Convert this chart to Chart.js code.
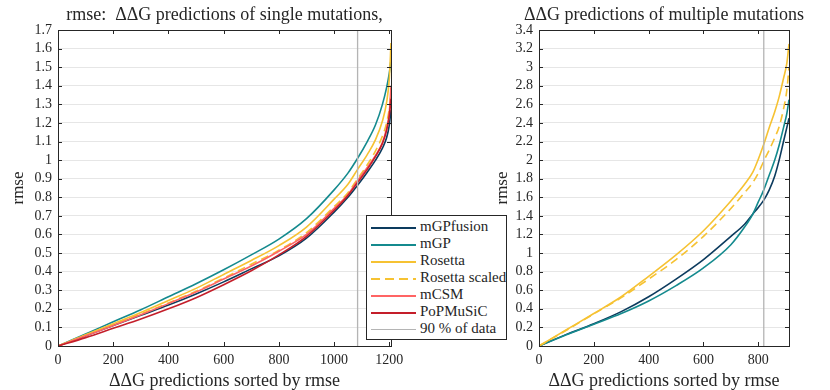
<!DOCTYPE html>
<html>
<head>
<meta charset="utf-8">
<script src="https://cdn.jsdelivr.net/npm/chart.js@4.4.0/dist/chart.umd.min.js"></script>
<style>
html, body { margin: 0; padding: 0; background: #fff; }
#wrap { position: relative; width: 830px; height: 390px; overflow: hidden; }
#c1 { position: absolute; left: 0; top: 0; }
#c2 { position: absolute; left: 415px; top: 0; }
#legend {
    position: absolute; left: 366px; top: 215px; width: 141px;
    background: #fff; border: 1px solid #262626; box-sizing: border-box;
    padding: 2px 0 2px 0; font-family: 'Liberation Serif', serif; font-size: 15px; color: #262626;
}
#legend .row { height: 17px; line-height: 17px; white-space: nowrap; }
#legend .sw { display: inline-block; width: 45px; height: 2px; margin: 0 4px 0 4px; vertical-align: middle; }
</style>
</head>
<body>
<div id="wrap">
    <canvas id="c1" width="415" height="390"></canvas>
    <canvas id="c2" width="415" height="390"></canvas>
    <div id="legend"></div>
</div>
<script>
// Данные: одиночные мутации
const singleX = [0, 100, 200, 300, 400, 500, 600, 700, 800, 900, 1000, 1050, 1085, 1120, 1150, 1175, 1190, 1200, 1206];
const singleFusion = [0, 0.055, 0.11, 0.165, 0.22, 0.28, 0.345, 0.415, 0.485, 0.58, 0.72, 0.80, 0.865, 0.935, 1.0, 1.065, 1.12, 1.19, 1.27];
const singleMGP = [0, 0.065, 0.13, 0.195, 0.265, 0.335, 0.41, 0.49, 0.575, 0.685, 0.84, 0.93, 1.01, 1.10, 1.19, 1.30, 1.39, 1.47, 1.54];
const singleRosetta = [0, 0.06, 0.12, 0.18, 0.245, 0.31, 0.385, 0.46, 0.54, 0.64, 0.79, 0.87, 0.95, 1.03, 1.11, 1.21, 1.31, 1.44, 1.63];
const singleRosettaScaled = [0, 0.058, 0.115, 0.172, 0.232, 0.295, 0.365, 0.44, 0.515, 0.61, 0.75, 0.825, 0.90, 0.975, 1.05, 1.13, 1.20, 1.28, 1.36];
const singleMCSM = [0, 0.055, 0.11, 0.168, 0.228, 0.29, 0.36, 0.43, 0.51, 0.60, 0.74, 0.815, 0.89, 0.96, 1.025, 1.095, 1.17, 1.26, 1.40];
const singlePoPMuSiC = [0, 0.045, 0.095, 0.145, 0.20, 0.26, 0.33, 0.405, 0.49, 0.59, 0.73, 0.81, 0.88, 0.95, 1.02, 1.09, 1.16, 1.24, 1.33];
const singleCut = 1085;
const singleXTicks = [0, 200, 400, 600, 800, 1000, 1200];
const singleYTicks = [0, 0.1, 0.2, 0.3, 0.4, 0.5, 0.6, 0.7, 0.8, 0.9, 1, 1.1, 1.2, 1.3, 1.4, 1.5, 1.6, 1.7];

// Данные: множественные мутации
const multiX = [0, 100, 200, 300, 400, 500, 600, 700, 750, 780, 800, 820, 840, 860, 876, 892, 904, 912];
const multiFusion = [0, 0.125, 0.24, 0.37, 0.53, 0.72, 0.93, 1.18, 1.31, 1.42, 1.49, 1.57, 1.68, 1.83, 2.0, 2.2, 2.35, 2.45];
const multiMGP = [0, 0.12, 0.235, 0.35, 0.485, 0.65, 0.84, 1.09, 1.28, 1.42, 1.55, 1.68, 1.84, 2.0, 2.16, 2.35, 2.5, 2.65];
const multiRosetta = [0, 0.175, 0.35, 0.53, 0.75, 0.98, 1.24, 1.56, 1.74, 1.87, 2.01, 2.17, 2.35, 2.52, 2.68, 2.88, 3.04, 3.25];
const multiRosettaScaled = [0, 0.17, 0.345, 0.52, 0.72, 0.93, 1.18, 1.48, 1.65, 1.76, 1.86, 1.99, 2.11, 2.24, 2.36, 2.55, 2.75, 3.0];
const multiCut = 820;
const multiXTicks = [0, 200, 400, 600, 800];
const multiYTicks = [0, 0.2, 0.4, 0.6, 0.8, 1, 1.2, 1.4, 1.6, 1.8, 2, 2.2, 2.4, 2.6, 2.8, 3, 3.2, 3.4];

const seriesNames = ['mGPfusion', 'mGP', 'Rosetta', 'Rosetta scaled', 'mCSM', 'PoPMuSiC', '90 % of data'];
const seriesColors = ['#0c3b5e', '#148a8e', '#f6c232', '#f6c232', '#ff6464', '#c41e2a', '#b4b4b4'];

const FONT = "'Liberation Serif', serif";
const INK = '#262626';

function pts(xs, ys) {
    return xs.map((x, i) => ({ x: x, y: ys[i] }));
}

function lineSet(idx, xs, ys) {
    return {
        label: seriesNames[idx],
        data: pts(xs, ys),
        borderColor: seriesColors[idx],
        borderWidth: 1.6,
        borderDash: idx === 3 ? [8, 5] : [],
        pointRadius: 0,
        cubicInterpolationMode: 'monotone',
        fill: false,
        order: 10 - idx
    };
}

function cutSet(x, ymax) {
    return {
        label: seriesNames[6],
        data: [{ x: x, y: 0 }, { x: x, y: ymax }],
        borderColor: seriesColors[6],
        borderWidth: 1.3,
        pointRadius: 0,
        order: 0
    };
}

// Рамка, внутренние засечки и заголовок в стиле MATLAB
const boxPlugin = {
    id: 'box',
    afterDatasetsDraw(chart) {
        const { ctx, chartArea: a, scales } = chart;
        ctx.save();
        ctx.strokeStyle = INK;
        ctx.lineWidth = 1;
        ctx.strokeRect(Math.round(a.left) + 0.5, Math.round(a.top) + 0.5,
            Math.round(a.right - a.left), Math.round(a.bottom - a.top));
        ctx.beginPath();
        scales.x.ticks.forEach(t => {
            const px = Math.round(scales.x.getPixelForValue(t.value)) + 0.5;
            ctx.moveTo(px, a.bottom); ctx.lineTo(px, a.bottom - 4);
            ctx.moveTo(px, a.top); ctx.lineTo(px, a.top + 4);
        });
        scales.y.ticks.forEach(t => {
            const py = Math.round(scales.y.getPixelForValue(t.value)) + 0.5;
            ctx.moveTo(a.left, py); ctx.lineTo(a.left + 4, py);
            ctx.moveTo(a.right, py); ctx.lineTo(a.right - 4, py);
        });
        ctx.stroke();
        const title = chart.options.plugins.topTitle;
        ctx.fillStyle = INK;
        ctx.font = '18px ' + FONT;
        ctx.textAlign = 'center';
        ctx.textBaseline = 'middle';
        ctx.fillText(title, (a.left + a.right) / 2, 15);
        ctx.restore();
    }
};

function makeChart(id, datasets, opts) {
    const ctx = document.getElementById(id).getContext('2d');
    return new Chart(ctx, {
        type: 'line',
        data: { datasets: datasets },
        plugins: [boxPlugin],
        options: {
            responsive: false,
            animation: false,
            layout: { padding: { top: 30, right: opts.padRight, bottom: 0, left: 0 } },
            plugins: {
                legend: { display: false },
                tooltip: { enabled: false },
                topTitle: opts.title
            },
            scales: {
                x: {
                    type: 'linear',
                    min: 0,
                    max: opts.xMax,
                    afterBuildTicks: s => { s.ticks = opts.xTicks.map(v => ({ value: v })); },
                    afterFit: s => { s.height = 44; },
                    border: { display: false },
                    grid: { display: false, drawTicks: false },
                    ticks: {
                        autoSkip: false, maxRotation: 0, padding: 6, color: INK,
                        font: { family: FONT, size: 14 },
                        callback: v => String(v)
                    },
                    title: {
                        display: true,
                        text: 'ΔΔG predictions sorted by rmse',
                        color: INK,
                        font: { family: FONT, size: 18, lineHeight: 1 },
                        padding: { top: 0, bottom: 0 }
                    }
                },
                y: {
                    min: 0,
                    max: opts.yMax,
                    afterBuildTicks: s => { s.ticks = opts.yTicks.map(v => ({ value: v })); },
                    afterFit: s => { s.width = opts.yWidth; },
                    border: { display: false },
                    grid: { color: '#e6e6e6', drawTicks: false },
                    ticks: {
                        autoSkip: false, padding: 6, color: INK,
                        font: { family: FONT, size: 14 },
                        callback: v => String(Math.round(v * 100) / 100)
                    },
                    title: {
                        display: true,
                        text: 'rmse',
                        color: INK,
                        font: { family: FONT, size: 17, lineHeight: 1 },
                        padding: { top: opts.yTitlePad, bottom: 0 }
                    }
                }
            }
        }
    });
}

function buildLegend() {
    const box = document.getElementById('legend');
    box.innerHTML = seriesNames.map((name, i) => {
        let style = 'background:' + seriesColors[i] + ';';
        if (i === 3) style = 'background:repeating-linear-gradient(90deg,' + seriesColors[i] + ' 0 9px, transparent 9px 14px);';
        if (i === 6) style += 'height:1px;';
        return '<div class="row"><span class="sw" style="' + style + '"></span>' + name + '</div>';
    }).join('');
}

document.addEventListener('DOMContentLoaded', function() {
    makeChart('c1', [
        lineSet(0, singleX, singleFusion),
        lineSet(1, singleX, singleMGP),
        lineSet(2, singleX, singleRosetta),
        lineSet(3, singleX, singleRosettaScaled),
        lineSet(4, singleX, singleMCSM),
        lineSet(5, singleX, singlePoPMuSiC),
        cutSet(singleCut, 1.7)
    ], { title: 'rmse:  ΔΔG predictions of single mutations,', xMax: 1206, yMax: 1.7,
         xTicks: singleXTicks, yTicks: singleYTicks, yWidth: 58, yTitlePad: 10, padRight: 24 });

    makeChart('c2', [
        lineSet(0, multiX, multiFusion),
        lineSet(1, multiX, multiMGP),
        lineSet(2, multiX, multiRosetta),
        lineSet(3, multiX, multiRosettaScaled),
        cutSet(multiCut, 3.4)
    ], { title: 'ΔΔG predictions of multiple mutations', xMax: 912, yMax: 3.4,
         xTicks: multiXTicks, yTicks: multiYTicks, yWidth: 124, yTitlePad: 79, padRight: 41 });

    buildLegend();
});
</script>
</body>
</html>
